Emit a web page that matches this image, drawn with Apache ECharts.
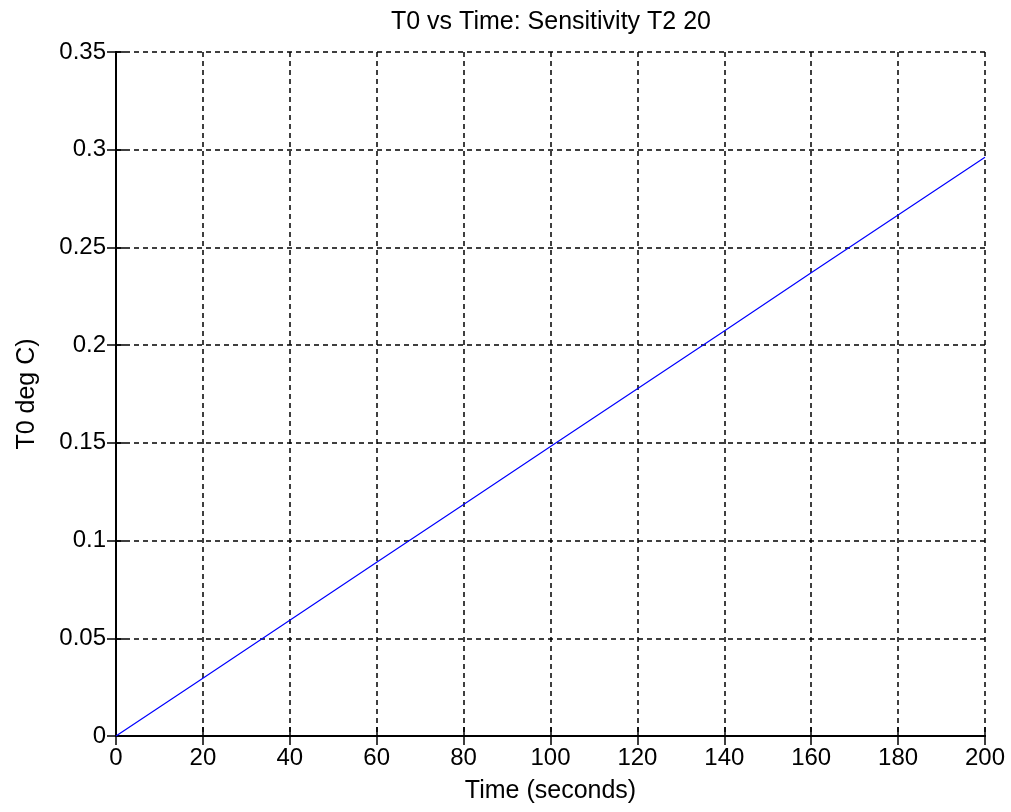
<!DOCTYPE html>
<html>
<head>
<meta charset="utf-8">
<title>T0 vs Time</title>
<script src="https://cdn.jsdelivr.net/npm/echarts@6/dist/echarts.min.js"></script>
<style>
  html, body { margin: 0; padding: 0; background: #fff; }
  #main { width: 1011px; height: 812px; }
</style>
</head>
<body>
<div id="main"></div>
<script>
// values
const times = [0, 20, 40, 60, 80, 100, 120, 140, 160, 180, 200]
const t0 = [0, 0.0296, 0.0592, 0.0889, 0.1185, 0.1481, 0.1777, 0.2073, 0.2370, 0.2666, 0.2962]

const font = 'Liberation Sans, Arial, sans-serif'
const fs = 24
const chart = echarts.init(document.getElementById('main'))

const lineStyle = { color: '#000', width: 2 }
const tick = { show: true, inside: true, length: 9, lineStyle: { color: '#000', width: 1.5 } }
const grid = { show: true, lineStyle: { color: '#000', type: [5, 4], width: 1.5 } }

const frameAxis = {
  axisLine: { show: true, lineStyle: lineStyle },
  axisTick: tick,
  axisLabel: { show: false },
  splitLine: { show: false }
}

chart.setOption({
  animation: false,
  backgroundColor: '#fff',
  title: {
    text: 'T0 vs Time: Sensitivity T2 20',
    left: 546, top: 5, textAlign: 'center',
    textStyle: { fontFamily: font, fontSize: 25, fontWeight: 'normal', color: '#000' }
  },
  grid: { left: 116, right: 26, top: 52, bottom: 76 },
  xAxis: [{
    type: 'value', min: 0, max: 200, interval: 20,
    name: 'Time (seconds)', nameLocation: 'middle', nameGap: 43,
    nameTextStyle: { fontFamily: font, fontSize: 25, color: '#000' },
    axisLine: { show: true, lineStyle: lineStyle },
    axisTick: tick,
    axisLabel: { fontFamily: font, fontSize: fs, color: '#000', margin: 10 },
    splitLine: grid
  }, Object.assign({ type: 'value', position: 'top', min: 0, max: 200, interval: 20 }, frameAxis)],
  yAxis: [{
    type: 'value', min: 0, max: 0.35, interval: 0.05,
    name: 'T0 deg C)', nameLocation: 'middle', nameGap: 76, nameRotate: 90,
    nameTextStyle: { fontFamily: font, fontSize: 25, color: '#000' },
    axisLine: { show: true, lineStyle: lineStyle },
    axisTick: tick,
    axisLabel: { fontFamily: font, fontSize: fs, color: '#000', margin: 10,
      formatter: v => String(Math.round(v * 100) / 100) },
    splitLine: grid
  }, Object.assign({ type: 'value', position: 'right', min: 0, max: 0.35, interval: 0.05 }, frameAxis)],
  series: [{
    type: 'line',
    data: times.map((t, i) => [t, t0[i]]),
    showSymbol: false,
    lineStyle: { color: '#0000ff', width: 1.2 },
    z: 5
  }]
})
</script>
</body>
</html>
